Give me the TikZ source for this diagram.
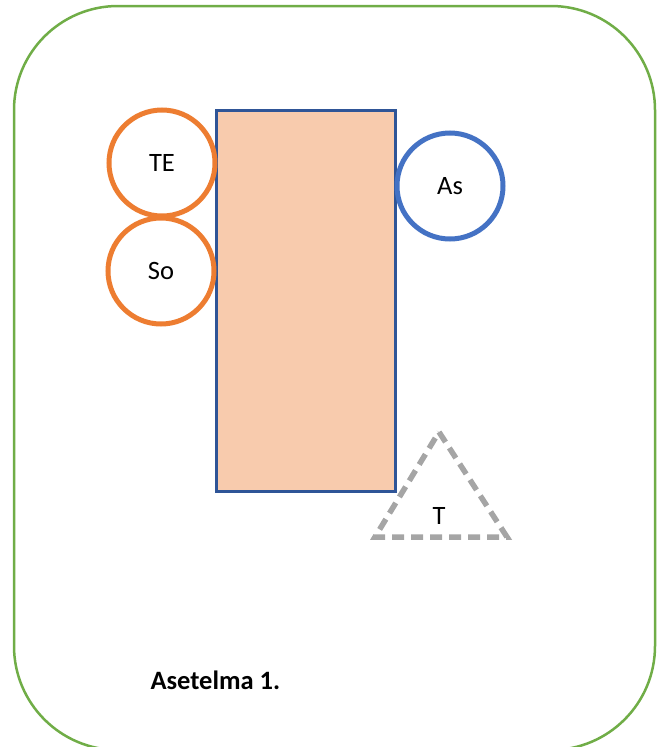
\documentclass[tikz,border=0pt]{standalone}
\usepackage{fontspec}
\setmainfont{Carlito}
\definecolor{frameGreen}{HTML}{70AD47}
\definecolor{peach}{HTML}{F8CBAD}
\definecolor{darkBlue}{HTML}{2F5597}
\definecolor{orangeC}{HTML}{ED7D31}
\definecolor{blueC}{HTML}{4472C4}
\definecolor{grayC}{HTML}{A5A5A5}
\begin{document}
\begin{tikzpicture}[x=1pt,y=-1pt,
  ring/.style={draw, circle, line width=5pt, minimum size=106pt, inner sep=0pt, font=\fontsize{26.5}{30}\selectfont},
  orangering/.style={ring, draw=orangeC},
  bluering/.style={ring, draw=blueC},
  bigbox/.style={draw=darkBlue, fill=peach, line width=2.2pt, minimum width=179pt, minimum height=381pt, inner sep=0pt},
  tri/.style={draw=grayC, line width=5.5pt, dash pattern=on 12pt off 7pt, line join=miter},
  lbl/.style={font=\fontsize{26.5}{30}\selectfont}
]
\useasboundingbox (0,0) rectangle (662,747);
\begin{scope}
\clip (0,0) rectangle (662,747);
\draw[frameGreen, line width=2.5pt, rounded corners=104pt] (14,6) rectangle (655,750);
\end{scope}
\node[bigbox] (box) at (306,301) {};
\node[orangering] (TE) at (162,163) {TE};
\node[orangering] (So) at (161,271) {So};
\node[bluering] (As) at (450,186) {As};
\coordinate (tA) at (439,432);
\coordinate (tB) at (507,537);
\coordinate (tC) at (375,537);
\draw[tri] (tA) -- (tB) -- (tC) -- cycle;
\node[lbl] (T) at (439,516) {T};
\node[font=\bfseries\fontsize{26.5}{30}\selectfont, anchor=west] (cap) at (147,680) {Asetelma 1.};
\end{tikzpicture}
\end{document}
